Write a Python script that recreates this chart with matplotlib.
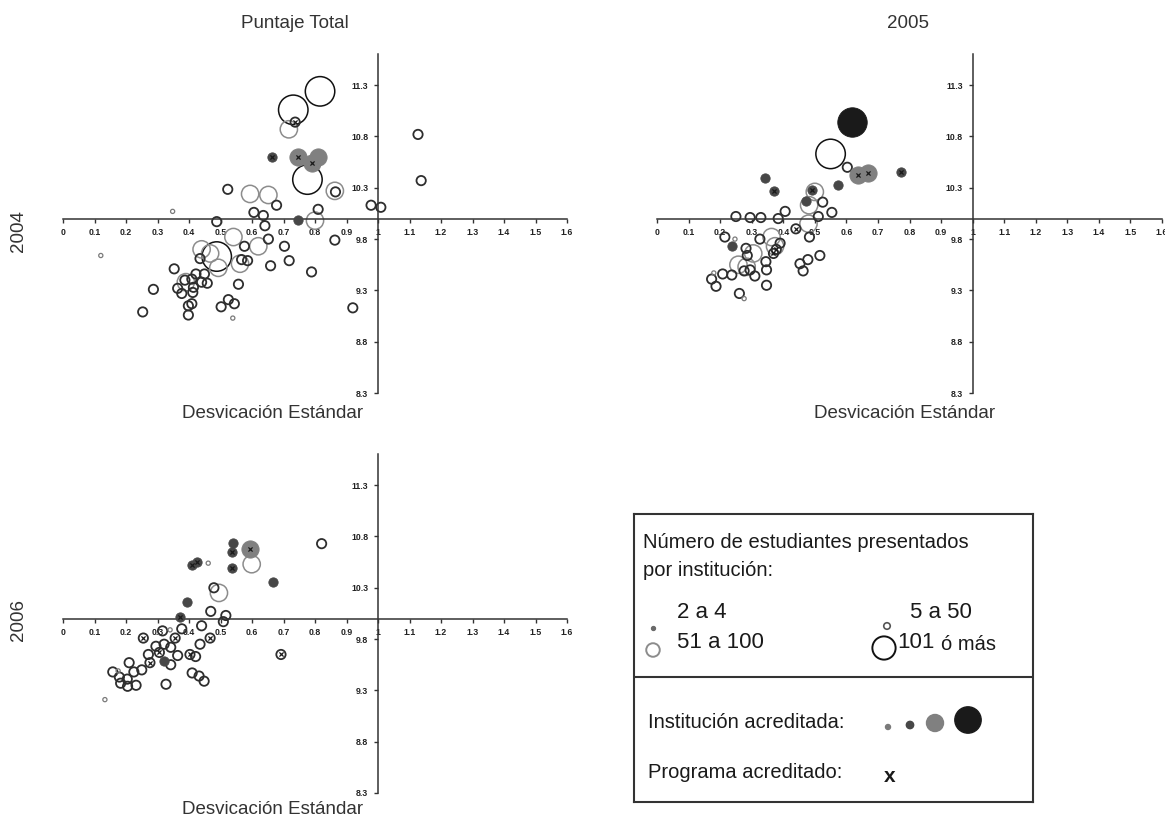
import matplotlib.pyplot as plt

plt.rcParams['font.family'] = ['Liberation Sans', 'DejaVu Sans']

# Each point: standard deviation (x), score (y), size class
# (0: 2-4, 1: 5-50, 2: 51-100, 3: 101+), accredited institution, accredited program
desv_2004 = [0.816, 0.731, 0.737, 0.717, 0.662, 0.747, 0.789, 0.81, 0.776, 0.523,
             0.594, 0.652, 0.863, 0.865, 0.678, 0.81, 0.348, 0.606, 0.636, 0.978,
             1.009, 0.747, 0.80, 0.488, 1.127, 1.137, 0.541, 0.641, 0.576, 0.652,
             0.62, 0.703, 0.863, 0.12, 0.44, 0.488, 0.467, 0.493, 0.562, 0.435,
             0.567, 0.586, 0.659, 0.718, 0.789, 0.353, 0.422, 0.449, 0.387, 0.409,
             0.44, 0.458, 0.557, 0.414, 0.364, 0.377, 0.412, 0.287, 0.525, 0.544,
             0.502, 0.398, 0.409, 0.398, 0.253, 0.539, 0.92, 0.39]
punt_2004 = [11.24, 11.06, 10.94, 10.87, 10.60, 10.60, 10.54, 10.60, 10.38, 10.285,
             10.24, 10.23, 10.27, 10.26, 10.13, 10.09, 10.07, 10.06, 10.03, 10.13,
             10.11, 9.99, 9.98, 9.97, 10.82, 10.37, 9.82, 9.93, 9.73, 9.80,
             9.73, 9.73, 9.79, 9.64, 9.70, 9.63, 9.66, 9.52, 9.56, 9.61,
             9.60, 9.59, 9.54, 9.59, 9.48, 9.51, 9.46, 9.46, 9.40, 9.41,
             9.38, 9.37, 9.36, 9.33, 9.32, 9.27, 9.28, 9.31, 9.21, 9.17,
             9.14, 9.15, 9.17, 9.06, 9.09, 9.03, 9.13, 9.38]
tam_2004 = [3, 3, 1, 2, 1, 2, 2, 2, 3, 1,
            2, 2, 2, 1, 1, 1, 0, 1, 1, 1,
            1, 1, 2, 1, 1, 1, 2, 1, 1, 1,
            2, 1, 1, 0, 2, 3, 2, 2, 2, 1,
            1, 1, 1, 1, 1, 1, 1, 1, 1, 1,
            1, 1, 1, 1, 1, 1, 1, 1, 1, 1,
            1, 1, 1, 1, 1, 0, 1, 2]
inst_2004 = [0, 0, 0, 0, 1, 1, 1, 1, 0, 0,
             0, 0, 0, 0, 0, 0, 0, 0, 0, 0,
             0, 1, 0, 0, 0, 0, 0, 0, 0, 0,
             0, 0, 0, 0, 0, 0, 0, 0, 0, 0,
             0, 0, 0, 0, 0, 0, 0, 0, 0, 0,
             0, 0, 0, 0, 0, 0, 0, 0, 0, 0,
             0, 0, 0, 0, 0, 0, 0, 0]
prog_2004 = [0, 0, 1, 0, 1, 1, 1, 0, 0, 0,
             0, 0, 0, 0, 0, 0, 0, 0, 0, 0,
             0, 0, 0, 0, 0, 0, 0, 0, 0, 0,
             0, 0, 0, 0, 0, 0, 0, 0, 0, 0,
             0, 0, 0, 0, 0, 0, 0, 0, 0, 0,
             0, 0, 0, 0, 0, 0, 0, 0, 0, 0,
             0, 0, 0, 0, 0, 0, 0, 0]

desv_2005 = [0.617, 0.55, 0.603, 0.638, 0.667, 0.772, 0.342, 0.372, 0.573, 0.49,
             0.50, 0.471, 0.482, 0.525, 0.554, 0.406, 0.25, 0.295, 0.329, 0.384,
             0.511, 0.48, 0.44, 0.483, 0.215, 0.237, 0.247, 0.363, 0.374, 0.326,
             0.39, 0.369, 0.305, 0.258, 0.284, 0.282, 0.286, 0.345, 0.347, 0.31,
             0.276, 0.295, 0.237, 0.208, 0.173, 0.187, 0.18, 0.347, 0.261, 0.276,
             0.453, 0.478, 0.463, 0.516, 0.378]
punt_2005 = [10.94, 10.63, 10.50, 10.42, 10.44, 10.45, 10.40, 10.27, 10.33, 10.28,
             10.26, 10.17, 10.13, 10.16, 10.06, 10.07, 10.02, 10.01, 10.01, 10.00,
             10.02, 9.95, 9.90, 9.82, 9.82, 9.73, 9.80, 9.82, 9.73, 9.80,
             9.76, 9.66, 9.66, 9.55, 9.53, 9.71, 9.64, 9.58, 9.50, 9.44,
             9.49, 9.50, 9.45, 9.46, 9.41, 9.34, 9.47, 9.35, 9.27, 9.22,
             9.56, 9.60, 9.49, 9.64, 9.70]
tam_2005 = [3, 3, 1, 2, 2, 1, 1, 1, 1, 1,
            2, 1, 2, 1, 1, 1, 1, 1, 1, 1,
            1, 2, 1, 1, 1, 1, 0, 2, 2, 1,
            1, 1, 2, 2, 2, 1, 1, 1, 1, 1,
            1, 1, 1, 1, 1, 1, 0, 1, 1, 0,
            1, 1, 1, 1, 1]
inst_2005 = [1, 0, 0, 1, 1, 1, 1, 1, 1, 1,
             0, 1, 0, 0, 0, 0, 0, 0, 0, 0,
             0, 0, 0, 0, 0, 1, 0, 0, 0, 0,
             0, 0, 0, 0, 0, 0, 0, 0, 0, 0,
             0, 0, 0, 0, 0, 0, 0, 0, 0, 0,
             0, 0, 0, 0, 0]
prog_2005 = [0, 0, 0, 1, 1, 1, 0, 1, 0, 1,
             0, 0, 0, 0, 0, 0, 0, 0, 0, 0,
             0, 0, 1, 0, 0, 0, 0, 0, 0, 0,
             0, 1, 0, 0, 0, 0, 0, 0, 0, 0,
             0, 0, 0, 0, 0, 0, 0, 0, 0, 0,
             0, 0, 0, 0, 1]

desv_2006 = [0.594, 0.599, 0.539, 0.535, 0.535, 0.408, 0.424, 0.461, 0.666, 0.821,
             0.495, 0.479, 0.393, 0.371, 0.469, 0.517, 0.509, 0.44, 0.34, 0.377,
             0.316, 0.255, 0.356, 0.467, 0.435, 0.295, 0.321, 0.342, 0.306, 0.271,
             0.364, 0.403, 0.421, 0.322, 0.276, 0.21, 0.342, 0.25, 0.225, 0.158,
             0.175, 0.179, 0.204, 0.183, 0.205, 0.232, 0.41, 0.432, 0.448, 0.327,
             0.133, 0.692]
punt_2006 = [10.68, 10.53, 10.74, 10.65, 10.49, 10.52, 10.55, 10.54, 10.36, 10.73,
             10.25, 10.30, 10.16, 10.02, 10.07, 10.03, 9.97, 9.93, 9.89, 9.90,
             9.88, 9.81, 9.81, 9.81, 9.75, 9.73, 9.75, 9.72, 9.67, 9.65,
             9.64, 9.65, 9.63, 9.59, 9.57, 9.57, 9.55, 9.50, 9.48, 9.48,
             9.49, 9.43, 9.41, 9.37, 9.34, 9.35, 9.47, 9.44, 9.39, 9.36,
             9.21, 9.65]
tam_2006 = [2, 2, 1, 1, 1, 1, 1, 0, 1, 1,
            2, 1, 1, 1, 1, 1, 1, 1, 0, 1,
            1, 1, 1, 1, 1, 1, 1, 1, 1, 1,
            1, 1, 1, 1, 1, 1, 1, 1, 1, 1,
            0, 1, 1, 1, 1, 1, 1, 1, 1, 1,
            0, 1]
inst_2006 = [1, 0, 1, 1, 1, 1, 1, 0, 1, 0,
             0, 0, 1, 1, 0, 0, 0, 0, 0, 0,
             0, 0, 0, 0, 0, 0, 0, 0, 0, 0,
             0, 0, 0, 1, 0, 0, 0, 0, 0, 0,
             0, 0, 0, 0, 0, 0, 0, 0, 0, 0,
             0, 0]
prog_2006 = [1, 0, 0, 1, 1, 1, 1, 0, 0, 0,
             0, 0, 0, 1, 0, 0, 0, 0, 0, 0,
             0, 1, 1, 1, 0, 0, 0, 0, 1, 0,
             0, 1, 0, 0, 1, 0, 0, 0, 0, 0,
             0, 0, 0, 0, 0, 0, 0, 0, 0, 0,
             0, 1]

x_ticks = [0, 0.1, 0.2, 0.3, 0.4, 0.5, 0.6, 0.7, 0.8, 0.9, 1.0,
           1.1, 1.2, 1.3, 1.4, 1.5, 1.6]
y_ticks = [8.3, 8.8, 9.3, 9.8, 10.3, 10.8, 11.3]

# marker area per size class, edge colour for open circles, fill for accredited
SIZES = {0: 9, 1: 45, 2: 155, 3: 450}
EDGE = {0: '#7a7a7a', 1: '#2e2e2e', 2: '#8c8c8c', 3: '#111111'}
WIDTH = {0: 0.9, 1: 1.3, 2: 1.1, 3: 1.1}
FILL = {0: '#7a7a7a', 1: '#474747', 2: '#808080', 3: '#1a1a1a'}

W, H = 1165, 819
fig = plt.figure(figsize=(W / 100, H / 100), dpi=100)


def px_axes(left, top, right, bottom):
    return fig.add_axes([left / W, 1 - bottom / H, (right - left) / W, (bottom - top) / H])


def px_text(x, y, s, **kw):
    fig.text(x / W, 1 - y / H, s, **kw)


def setup_axes(ax):
    ax.set_xlim(0, 1.6)
    ax.set_ylim(8.3, 11.6)
    ax.patch.set_visible(False)
    ax.spines['top'].set_visible(False)
    ax.spines['right'].set_visible(False)
    ax.spines['left'].set_position(('data', 1.0))
    ax.spines['bottom'].set_position(('data', 10.0))
    for sp in ('left', 'bottom'):
        ax.spines[sp].set_color('#333333')
        ax.spines[sp].set_linewidth(1.1)
    ax.set_xticks(x_ticks)
    ax.set_xticklabels([f"{v:g}" for v in x_ticks])
    ax.set_yticks(y_ticks)
    ax.set_yticklabels([f"{v:g}" for v in y_ticks])
    ax.tick_params(direction='out', length=3, width=1, colors='#333333',
                   labelcolor='#222222', labelsize=6.3, pad=4)
    for lab in ax.get_xticklabels() + ax.get_yticklabels():
        lab.set_fontweight('bold')


def draw_panel(ax, desv, punt, tam, inst, prog):
    setup_axes(ax)
    order = sorted(range(len(desv)), key=lambda i: -tam[i])
    for i in order:
        k = tam[i]
        if inst[i]:
            ax.scatter(desv[i], punt[i], s=SIZES[k], color=FILL[k],
                       edgecolors=FILL[k], linewidths=0.6, zorder=3, clip_on=False)
        else:
            ax.scatter(desv[i], punt[i], s=SIZES[k], facecolors='none',
                       edgecolors=EDGE[k], linewidths=WIDTH[k], zorder=2, clip_on=False)
        if prog[i]:
            ax.scatter(desv[i], punt[i], marker='x', s=9, color='#1a1a1a',
                       linewidths=0.9, zorder=4, clip_on=False)


ax1 = px_axes(63, 54.4, 567, 393)
draw_panel(ax1, desv_2004, punt_2004, tam_2004, inst_2004, prog_2004)
ax2 = px_axes(657, 54.4, 1162, 393)
draw_panel(ax2, desv_2005, punt_2005, tam_2005, inst_2005, prog_2005)
ax3 = px_axes(63, 454.4, 567, 793)
draw_panel(ax3, desv_2006, punt_2006, tam_2006, inst_2006, prog_2006)

lab_kw = dict(fontsize=13.5, color='#333333', ha='center', va='center')
px_text(295, 23, "Puntaje Total", **lab_kw)
px_text(908, 23, "2005", **lab_kw)
px_text(18, 231, "2004", rotation=90, **lab_kw)
px_text(18, 620, "2006", rotation=90, **lab_kw)
px_text(273, 413, "Desvicación Estándar", **lab_kw)
px_text(905, 413, "Desvicación Estándar", **lab_kw)
px_text(273, 810, "Desvicación Estándar", **lab_kw)

# legend box
lg = px_axes(634, 514, 1033, 802)
lg.set_xlim(0, 399)
lg.set_ylim(288, 0)
lg.set_xticks([])
lg.set_yticks([])
for sp in lg.spines.values():
    sp.set_color('#333333')
    sp.set_linewidth(1.5)
lg.axhline(163, color='#333333', lw=1.5)

txt = dict(color='#1a1a1a', va='center', ha='left')
lg.text(9, 28, "Número de estudiantes presentados", fontsize=14.5, **txt)
lg.text(9, 56, "por institución:", fontsize=14.5, **txt)
lg.text(43, 99, "2 a 4", fontsize=16, **txt)
lg.text(43, 129, "51 a 100", fontsize=16, **txt)
lg.text(276, 99, "5 a 50", fontsize=16, **txt)
lg.text(263, 129, "101", fontsize=16, **txt)
lg.text(307, 130, "ó más", fontsize=14.5, **txt)
lg.scatter([19], [114], s=8, color='#6a6a6a', zorder=3)
lg.scatter([19], [136], s=95, facecolors='none', edgecolors='#8c8c8c', linewidths=1.4)
lg.scatter([253], [112], s=22, facecolors='none', edgecolors='#555555', linewidths=1.2)
lg.scatter([250], [134], s=280, facecolors='none', edgecolors='#111111', linewidths=1.4)

lg.text(14, 209, "Institución acreditada:", fontsize=14.5, **txt)
lg.scatter([254, 276, 301, 334], [213, 211, 209, 206], s=[13, 28, 150, 360],
           color=['#7a7a7a', '#474747', '#808080', '#1a1a1a'])
lg.text(14, 259, "Programa acreditado:", fontsize=14.5, **txt)
lg.text(256, 263, "x", fontsize=15, fontweight='bold', ha='center', va='center',
        color='#1a1a1a')

fig.savefig("out.png", dpi=100)
